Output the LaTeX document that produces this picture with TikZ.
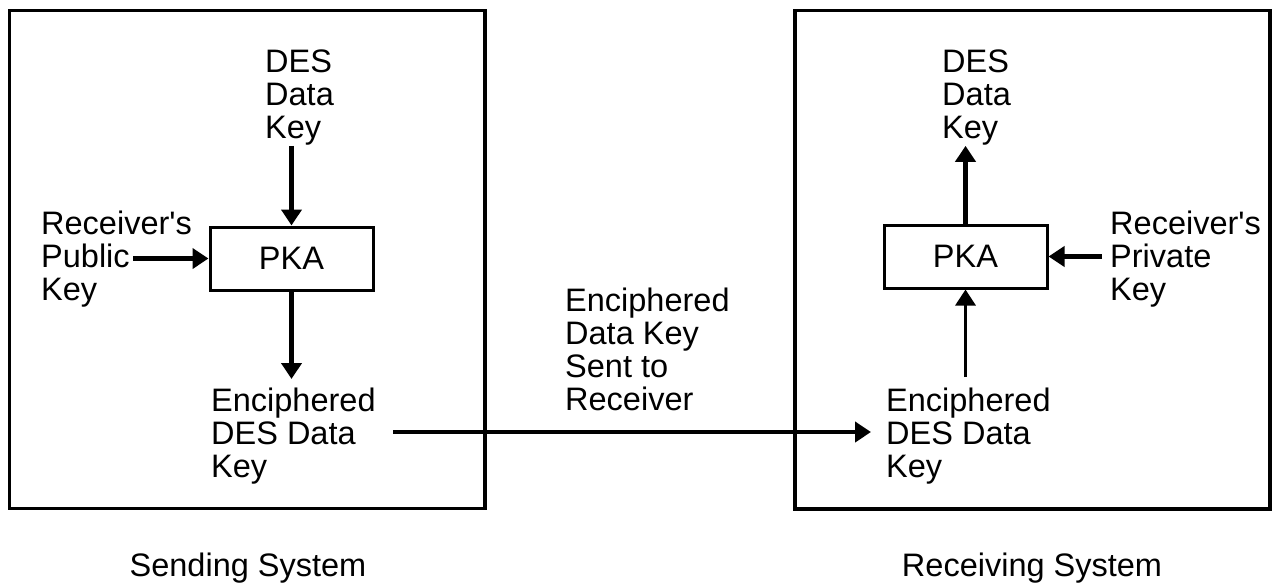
\documentclass[tikz,border=0pt]{standalone}
\usepackage{fontspec}
\setmainfont{Liberation Sans}[Ligatures=TeXOff]
\usetikzlibrary{arrows.meta,positioning}

\begin{document}
\begin{tikzpicture}[x=1pt, y=-1pt,
  sysbox/.style={draw, line width=3.5pt, inner sep=0pt},
  pkabox/.style={draw, line width=3pt, minimum width=163pt, minimum height=63pt,
                 inner sep=0pt, font=\fontsize{32.5}{33}\selectfont},
  lbl/.style={align=left, anchor=north west, inner sep=0pt, font=\fontsize{32.5}{33}\selectfont},
  arr/.style={-{Triangle[length=16pt,width=20pt]}, line width=4.2pt},
]
  \useasboundingbox (0,0) rectangle (1273,584);

  % sending side
  \node[sysbox, minimum width=475.5pt, minimum height=498pt] (sendBox) at (247.25,259.5) {};
  \node[lbl] (desL) at (265,50) {DES\\Data\\Key};
  \node[lbl] (rcvL) at (41,211) {Receiver's\\Public\\Key};
  \node[pkabox] (pkaL) at (291.5,258.5) {PKA};
  \node[lbl] (encL) at (211,388) {Enciphered\\DES Data\\Key};
  \node[lbl, anchor=north, align=center] (sendSys) at (248,553) {Sending System};

  % receiving side
  \node[sysbox, minimum width=475pt, minimum height=498.5pt] (recvBox) at (1032.5,259.75) {};
  \node[lbl] (desR) at (942,50) {DES\\Data\\Key};
  \node[lbl] (rcvR) at (1110,211) {Receiver's\\Private\\Key};
  \node[pkabox] (pkaR) at (965.5,256.5) {PKA};
  \node[lbl] (encR) at (886,388) {Enciphered\\DES Data\\Key};
  \node[lbl, anchor=north, align=center] (recvSys) at (1032,553) {Receiving System};

  % transfer label
  \node[lbl] (sent) at (565,288) {Enciphered\\Data Key\\Sent to\\Receiver};

  % free ends of the side arrows
  \coordinate (pubOut) at (133,258.5);
  \coordinate (privOut) at (1102,256.5);
  \coordinate (sendOut) at (393,432);

  \draw[arr] (pkaL.north |- desL.south) -- (pkaL.north);
  \draw[arr] (pubOut) -- (pkaL.west);
  \draw[arr, shorten >=9pt] (pkaL.south) -- (pkaL.south |- encL.north);
  \draw[arr, shorten >=15pt] (sendOut) -- (encR.west |- sendOut);
  \draw[arr] (pkaR.north) -- (pkaR.north |- desR.south);
  \draw[arr] (privOut) -- (pkaR.east);
  \draw[arr, line width=3pt, shorten <=11pt] (pkaR.south |- encR.north) -- (pkaR.south);
\end{tikzpicture}
\end{document}
